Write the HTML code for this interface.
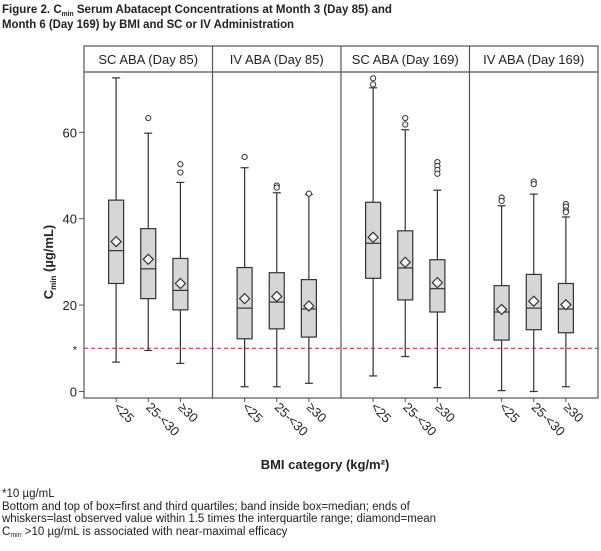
<!DOCTYPE html>
<html><head><meta charset="utf-8"><style>
body{margin:0;background:#fff;font-family:"Liberation Sans",Arial,sans-serif}
svg{display:block}
</style></head><body>
<svg id="chart" width="601" height="551" xmlns="http://www.w3.org/2000/svg">
<text x="2" y="13" font-size="12" font-weight="bold" fill="#222" textLength="390" lengthAdjust="spacingAndGlyphs">Figure 2.  C<tspan font-size="7" dy="3">min</tspan><tspan dy="-3"> Serum Abatacept Concentrations at Month 3 (Day 85) and</tspan></text>
<text x="2" y="28" font-size="12" font-weight="bold" fill="#222" textLength="292" lengthAdjust="spacingAndGlyphs">Month 6 (Day 169) by BMI and SC or IV Administration</text>
<g id="plot"></g>
<text x="325" y="469" font-size="13" font-weight="bold" text-anchor="middle" fill="#222">BMI category (kg/m²)</text>
<text transform="translate(53,262) rotate(-90)" font-size="13" font-weight="bold" text-anchor="middle" fill="#222">C<tspan font-size="8" dy="3">min</tspan><tspan dy="-3"> (µg/mL)</tspan></text>
<g font-size="11.5" fill="#222">
<text x="2" y="497">*10 µg/mL</text>
<text x="2" y="510">Bottom and top of box=first and third quartiles; band inside box=median; ends of</text>
<text x="2" y="522">whiskers=last observed value within 1.5 times the interquartile range; diamond=mean</text>
<text x="2" y="535">C<tspan font-size="7" dy="2">min</tspan><tspan dy="-2"> &gt;10 µg/mL is associated with near-maximal efficacy</tspan></text>
</g>
</svg>
<script>
const panels=["SC ABA (Day 85)","IV ABA (Day 85)","SC ABA (Day 169)","IV ABA (Day 169)"];
const categories=["<25","25-<30","≥30"];
const lowW=[[6.8,9.5,6.5],[1.1,1.1,1.9],[3.6,8.1,0.9],[0.2,0,1.1]];
const q1=[[25,21.5,18.9],[12.2,14.5,12.6],[26.2,21.2,18.4],[11.9,14.3,13.6]];
const medians=[[32.6,28.4,23.4],[19.3,20.7,19.1],[34.3,28.6,23.8],[18.4,19.3,19.1]];
const means=[[34.7,30.6,25],[21.5,22,19.8],[35.7,29.9,25.2],[19,20.9,20.1]];
const q3=[[44.3,37.7,30.8],[28.7,27.5,25.9],[43.8,37.2,30.5],[24.5,27.1,25]];
const highW=[[72.6,59.8,48.4],[51.8,46,45.6],[70.3,60.6,46.6],[43,45.7,40.4]];
const outliers=[[[],[63.3],[52.6,50.7]],[[54.3],[47.7,47.2],[45.8]],[[72.5,71.1],[63.3,61.8],[53.1,52.2,51.3,50.4]],[[44.9,44.1],[48.6,48],[43.4,42.8,41.9,41.5]]];
const yTicks=[0,20,40,60];
const refLine=10;

const NS="http://www.w3.org/2000/svg";
const g=document.getElementById('plot');
const L=84,R=598,T=46,HB=72,B=398;
const pw=(R-L)/panels.length;
const y=v=>391.5-4.32*v;
const x=(p,c)=>L+p*pw+pw*(c+1)/4;
function mk(tag,a,parent){const e=document.createElementNS(NS,tag);for(const k in a)e.setAttribute(k,a[k]);(parent||g).appendChild(e);return e;}
const st={stroke:"#333","stroke-width":1.2,fill:"none"};
let e=mk('rect',{x:L,y:T,width:R-L,height:B-T,fill:"none",stroke:"#555","stroke-width":1.2});


e=mk('line',{x1:L,x2:R,y1:HB,y2:HB,stroke:"#555","stroke-width":1.2});


yTicks.forEach(t=>{
  const l=mk('line',{x1:79,x2:L,y1:y(t),y2:y(t),stroke:"#555"});
  
  
  const tx=mk('text',{x:77,y:y(t)+5,"font-size":13,"text-anchor":"end",fill:"#222"});
  tx.textContent=t;
  
  
});
e=mk('text',{x:77,y:y(refLine)+5,"font-size":11,"text-anchor":"end",fill:"#222"});e.textContent="*";


e=mk('line',{x1:L,x2:R,y1:y(refLine),y2:y(refLine),stroke:"#d9342b","stroke-width":1.2,"stroke-dasharray":"4,3"});


panels.forEach((p,i)=>{
  const px=L+i*pw;
  if(i>0){const d=mk('line',{x1:px,x2:px,y1:T,y2:B,stroke:"#555","stroke-width":1.2});
    
    }
  const h=mk('text',{x:px+pw/2,y:64,"font-size":13,"text-anchor":"middle",fill:"#222"});h.textContent=p;
  
  
  categories.forEach((c,j)=>{
    const cx=x(i,j),bw=15;
    const grp=mk('g',{});
    
    
    mk('line',Object.assign({x1:cx,x2:cx,y1:y(highW[i][j]),y2:y(q3[i][j])},st),grp);
    mk('line',Object.assign({x1:cx,x2:cx,y1:y(q1[i][j]),y2:y(lowW[i][j])},st),grp);
    mk('line',Object.assign({x1:cx-4,x2:cx+4,y1:y(highW[i][j]),y2:y(highW[i][j])},st),grp);
    mk('line',Object.assign({x1:cx-4,x2:cx+4,y1:y(lowW[i][j]),y2:y(lowW[i][j])},st),grp);
    mk('rect',{x:cx-bw/2,y:y(q3[i][j]),width:bw,height:y(q1[i][j])-y(q3[i][j]),fill:"#d6d6d6",stroke:"#333","stroke-width":1.2},grp);
    mk('line',Object.assign({x1:cx-bw/2,x2:cx+bw/2,y1:y(medians[i][j]),y2:y(medians[i][j])},st),grp);
    const my=y(means[i][j]);
    mk('polygon',{points:`${cx},${my-5} ${cx+5},${my} ${cx},${my+5} ${cx-5},${my}`,fill:"#fff",stroke:"#333","stroke-width":1.2},grp);
    outliers[i][j].forEach(o=>mk('circle',{cx:cx,cy:y(o),r:2.6,fill:"#fff",stroke:"#333","stroke-width":1},grp));
    const tk=mk('line',{x1:cx,x2:cx,y1:B,y2:B+4,stroke:"#555"});
    
    
    const t=mk('text',{transform:`translate(${cx-3},${B+10}) rotate(45)`,"font-size":13,fill:"#222"});
    t.textContent=c;
    
    
  });
});
</script>
</body></html>
